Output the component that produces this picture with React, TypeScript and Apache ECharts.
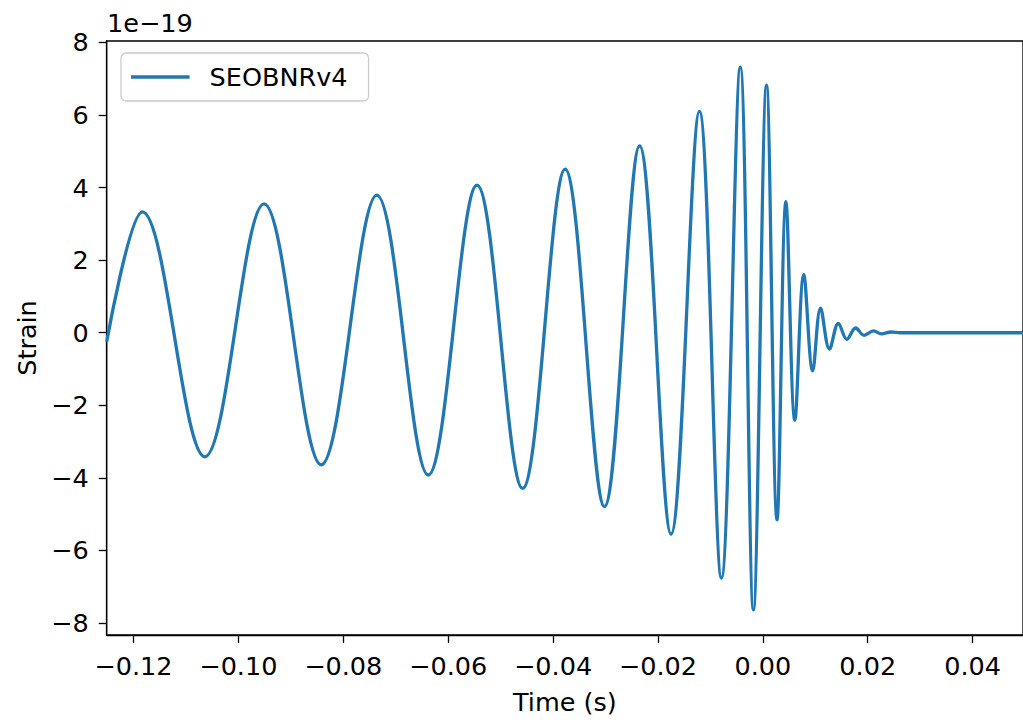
import React, { useEffect, useRef } from "react";
import * as echarts from "echarts";

// Time (s): start of the window, then the successive peaks and troughs, then the flat tail
const times: number[] = [
  -0.1251,
  -0.1183, -0.1064, -0.0951, -0.0842, -0.0736, -0.0638, -0.0545, -0.0458,
  -0.0377, -0.0302, -0.0235, -0.0175, -0.0121, -0.0079, -0.0043, -0.0018,
  0.0007, 0.0027, 0.0044, 0.0061, 0.0078, 0.0095, 0.011, 0.0127,
  0.0144, 0.016, 0.0177, 0.0193, 0.0211, 0.0226, 0.0245,
  0.0262, 0.03, 0.04, 0.05,
];

// Strain in units of 1e-19
const strain: number[] = [
  -0.25,
  3.33, -3.42, 3.55, -3.64, 3.79, -3.92, 4.07, -4.29,
  4.51, -4.79, 5.15, -5.55, 6.1, -6.76, 7.32, -7.64,
  6.82, -5.16, 3.61, -2.41, 1.6, -1.05, 0.68, -0.45,
  0.26, -0.18, 0.13, -0.07, 0.05, -0.03, 0.02,
  0, 0, 0, 0,
];

const xTicks: number[] = [-0.12, -0.1, -0.08, -0.06, -0.04, -0.02, 0, 0.02, 0.04];
const yTicks: number[] = [-8, -6, -4, -2, 0, 2, 4, 6, 8];

const seriesName = "SEOBNRv4";
const offsetText = "1e\u221219";
const FONT = "DejaVu Sans";
const FS = 25.5;

const fmt = (v: number, d: number) => {
  const r = Math.abs(v) < 1e-12 ? 0 : v;
  return (r < 0 ? "\u2212" : "") + Math.abs(r).toFixed(d);
};

export default function App() {
  const ref = useRef<HTMLDivElement>(null);
  useEffect(() => {
    document.body.style.margin = "0";
    if (!ref.current) return;
    const chart = echarts.init(ref.current, undefined, { renderer: "svg" });
    const data = times.map((t, i) => [t, strain[i]]);
    chart.setOption({
      animation: false,
      backgroundColor: "#ffffff",
      grid: {
        left: 106.7,
        right: -2,
        top: 41,
        bottom: 85,
        show: true,
        borderColor: "#000",
        borderWidth: 1.3,
        backgroundColor: "transparent",
      },
      legend: {
        show: true,
        left: 121,
        top: 53,
        data: [{ name: seriesName, icon: "rect" }],
        itemWidth: 58.6,
        itemHeight: 3.3,
        textStyle: { fontSize: FS, fontFamily: FONT, color: "#000", padding: [0, 0, 0, 15] },
        backgroundColor: "rgba(255,255,255,0.8)",
        borderColor: "#cccccc",
        borderWidth: 1.3,
        borderRadius: 5,
        padding: [11, 21, 11, 10],
        selectedMode: false,
      },
      graphic: [
        {
          type: "text",
          left: 107,
          top: 10,
          style: { text: offsetText, fontSize: FS, fontFamily: FONT, fill: "#000" },
        },
      ],
      xAxis: {
        type: "value",
        min: -0.1251,
        max: 0.0496,
        name: "Time (s)",
        nameLocation: "middle",
        nameGap: 54,
        nameTextStyle: { fontSize: FS, fontFamily: FONT, color: "#000" },
        axisLine: { show: true, onZero: false, lineStyle: { color: "#000", width: 1.3 } },
        axisTick: { show: true, inside: false, length: 8, customValues: xTicks, lineStyle: { color: "#000", width: 1.3 } },
        axisLabel: {
          customValues: xTicks,
          formatter: (v: number) => fmt(v, 2),
          margin: 18,
          color: "#000",
          fontSize: FS,
          fontFamily: FONT,
          hideOverlap: false,
        },
        splitLine: { show: false },
      },
      yAxis: {
        type: "value",
        min: -8.33,
        max: 8.04,
        name: "Strain",
        nameLocation: "middle",
        nameGap: 63,
        nameTextStyle: { fontSize: FS, fontFamily: FONT, color: "#000" },
        axisLine: { show: true, onZero: false, lineStyle: { color: "#000", width: 1.3 } },
        axisTick: { show: true, inside: false, length: 8, customValues: yTicks, lineStyle: { color: "#000", width: 1.3 } },
        axisLabel: {
          customValues: yTicks,
          formatter: (v: number) => fmt(v, 0),
          margin: 18,
          color: "#000",
          fontSize: FS,
          fontFamily: FONT,
          hideOverlap: false,
        },
        splitLine: { show: false },
      },
      series: [
        {
          name: seriesName,
          type: "line",
          data,
          smooth: 0.363,
          showSymbol: false,
          symbol: "none",
          clip: true,
          color: "#1f77b4",
          lineStyle: { color: "#1f77b4", width: 3.3 },
          itemStyle: { color: "#1f77b4" },
          emphasis: { disabled: true },
        },
      ],
    });
    return () => chart.dispose();
  }, []);
  return (
    <div
      ref={ref}
      style={{ position: "absolute", left: 0, top: 0, width: 1023, height: 720, background: "#fff" }}
    />
  );
}
